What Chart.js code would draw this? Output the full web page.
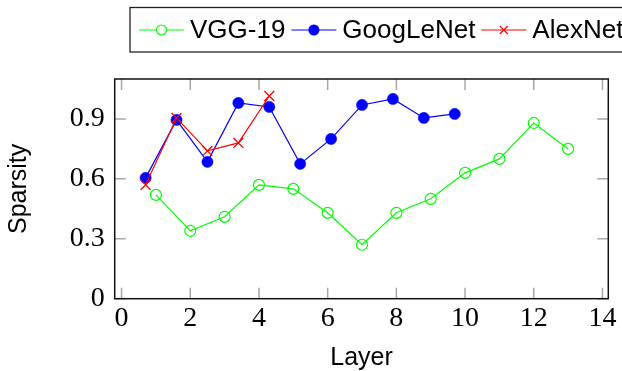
<!DOCTYPE html>
<html>
<head>
<meta charset="utf-8">
<script src="https://cdn.jsdelivr.net/npm/chart.js@4.4.0/dist/chart.umd.min.js"></script>
<style>
  html, body { margin: 0; padding: 0; background: #fff; }
  #wrap { width: 622px; height: 371px; }
</style>
</head>
<body>
<div id="wrap"><canvas id="chart" width="622" height="371"></canvas></div>
<script>
// data
const seriesNames = ['VGG-19', 'GoogLeNet', 'AlexNet'];
const seriesColors = ['#00ff00', '#0000ff', '#ff0000'];

const vggX = [1, 2, 3, 4, 5, 6, 7, 8, 9, 10, 11, 12, 13];
const vggY = [0.52, 0.34, 0.41, 0.57, 0.55, 0.43, 0.27, 0.43, 0.50, 0.63, 0.70, 0.88, 0.75];

const googX = [0.7, 1.6, 2.5, 3.4, 4.3, 5.2, 6.1, 7.0, 7.9, 8.8, 9.7];
const googY = [0.605, 0.895, 0.685, 0.98, 0.96, 0.675, 0.80, 0.97, 1.0, 0.905, 0.925];

const alexX = [0.7, 1.6, 2.5, 3.4, 4.3];
const alexY = [0.57, 0.905, 0.74, 0.78, 1.015];

const xTicks = [0, 2, 4, 6, 8, 10, 12, 14];
const yTicks = [0, 0.3, 0.6, 0.9];
const yTickLabels = ['0', '0.3', '0.6', '0.9'];

const toPoints = (xs, ys) => xs.map((x, i) => ({ x: x, y: ys[i] }));

const tickFont = { family: '"Liberation Serif", "Times New Roman", serif', size: 28 };
const sansFont = '"Liberation Sans", Arial, Helvetica, sans-serif';

// box round the plot with inward ticks on all four sides (pgfplots style)
const framePlugin = {
  id: 'frame',
  beforeDatasetsDraw(chart) {
    const { ctx, chartArea: a, scales } = chart;
    const len = 11;
    ctx.save();
    ctx.strokeStyle = '#a8a8a8';
    ctx.lineWidth = 1.5;
    ctx.beginPath();
    xTicks.forEach(v => {
      const px = scales.x.getPixelForValue(v);
      ctx.moveTo(px, a.bottom); ctx.lineTo(px, a.bottom - len);
      ctx.moveTo(px, a.top); ctx.lineTo(px, a.top + len);
    });
    yTicks.forEach(v => {
      const py = scales.y.getPixelForValue(v);
      ctx.moveTo(a.left, py); ctx.lineTo(a.left + len, py);
      ctx.moveTo(a.right, py); ctx.lineTo(a.right - len, py);
    });
    ctx.stroke();
    ctx.strokeStyle = '#111';
    ctx.lineWidth = 1.5;
    ctx.strokeRect(a.left, a.top, a.right - a.left, a.bottom - a.top);
    ctx.restore();
  }
};

// legend: line + marker, boxed, runs off the right edge like the original
const legendPlugin = {
  id: 'boxLegend',
  afterDraw(chart) {
    const ctx = chart.ctx;
    const markers = ['circleOpen', 'circleFilled', 'cross'];
    const cy = 30;
    ctx.save();
    ctx.strokeStyle = '#222';
    ctx.lineWidth = 1.3;
    ctx.strokeRect(130, 7.5, 520, 44.5);
    ctx.font = '26px ' + sansFont;
    ctx.textBaseline = 'middle';
    ctx.textAlign = 'left';
    let x = 139;
    seriesNames.forEach((name, i) => {
      const col = seriesColors[i];
      ctx.strokeStyle = col;
      ctx.lineWidth = 1.2;
      ctx.beginPath();
      ctx.moveTo(x, cy); ctx.lineTo(x + 45, cy);
      ctx.stroke();
      const mx = x + 22.5;
      if (markers[i] === 'circleOpen') {
        ctx.fillStyle = '#fff';
        ctx.beginPath(); ctx.arc(mx, cy, 5, 0, Math.PI * 2); ctx.fill(); ctx.stroke();
      } else if (markers[i] === 'circleFilled') {
        ctx.fillStyle = col;
        ctx.beginPath(); ctx.arc(mx, cy, 5.5, 0, Math.PI * 2); ctx.fill();
      } else {
        ctx.beginPath();
        ctx.moveTo(mx - 4, cy - 4); ctx.lineTo(mx + 4, cy + 4);
        ctx.moveTo(mx - 4, cy + 4); ctx.lineTo(mx + 4, cy - 4);
        ctx.stroke();
      }
      ctx.fillStyle = '#000';
      const tx = x + 51;
      ctx.fillText(name, tx, cy + 1);
      x = tx + ctx.measureText(name).width + 6;
    });
    ctx.restore();
  }
};

new Chart(document.getElementById('chart'), {
  type: 'line',
  data: {
    datasets: [
      {
        label: seriesNames[0],
        data: toPoints(vggX, vggY),
        borderColor: seriesColors[0],
        backgroundColor: 'rgba(0,0,0,0)',
        borderWidth: 1.2,
        pointStyle: 'circle',
        pointRadius: 5.5,
        pointBorderWidth: 1.2,
        pointBackgroundColor: 'rgba(0,0,0,0)',
        pointBorderColor: seriesColors[0],
        order: 3
      },
      {
        label: seriesNames[1],
        data: toPoints(googX, googY),
        borderColor: seriesColors[1],
        backgroundColor: seriesColors[1],
        borderWidth: 1.2,
        pointStyle: 'circle',
        pointRadius: 5.6,
        pointBorderWidth: 0.5,
        pointBackgroundColor: seriesColors[1],
        pointBorderColor: seriesColors[1],
        order: 2
      },
      {
        label: seriesNames[2],
        data: toPoints(alexX, alexY),
        borderColor: seriesColors[2],
        backgroundColor: seriesColors[2],
        borderWidth: 1.2,
        pointStyle: 'crossRot',
        pointRadius: 7,
        pointBorderWidth: 1.3,
        pointBorderColor: seriesColors[2],
        order: 1
      }
    ]
  },
  options: {
    responsive: false,
    animation: false,
    devicePixelRatio: 1,
    layout: { padding: { top: 79, right: 13.7, bottom: 0, left: 0 } },
    plugins: {
      legend: { display: false },
      tooltip: { enabled: false }
    },
    scales: {
      x: {
        type: 'linear',
        min: -0.2,
        max: 14.17,
        afterBuildTicks: s => { s.ticks = xTicks.map(v => ({ value: v })); },
        afterFit: s => { s.height = 72.3; },
        grid: { display: false, drawTicks: false },
        border: { display: false },
        ticks: { font: tickFont, color: '#000', padding: 3, maxRotation: 0, autoSkip: false },
        title: {
          display: true,
          text: 'Layer',
          color: '#000',
          font: { family: sansFont, size: 25 },
          padding: { top: 0, bottom: -2 }
        }
      },
      y: {
        type: 'linear',
        min: 0,
        max: 1.1,
        afterBuildTicks: s => { s.ticks = yTicks.map(v => ({ value: v })); },
        afterFit: s => { s.width = 114.7; },
        grid: { display: false, drawTicks: false },
        border: { display: false },
        ticks: {
          font: tickFont,
          color: '#000',
          padding: 10,
          autoSkip: false,
          callback: (v) => yTickLabels[yTicks.indexOf(v)] ?? ''
        },
        title: {
          display: true,
          text: 'Sparsity',
          color: '#000',
          font: { family: sansFont, size: 25 },
          padding: { top: 4, bottom: 0 }
        }
      }
    }
  },
  plugins: [framePlugin, legendPlugin]
});
</script>
</body>
</html>
